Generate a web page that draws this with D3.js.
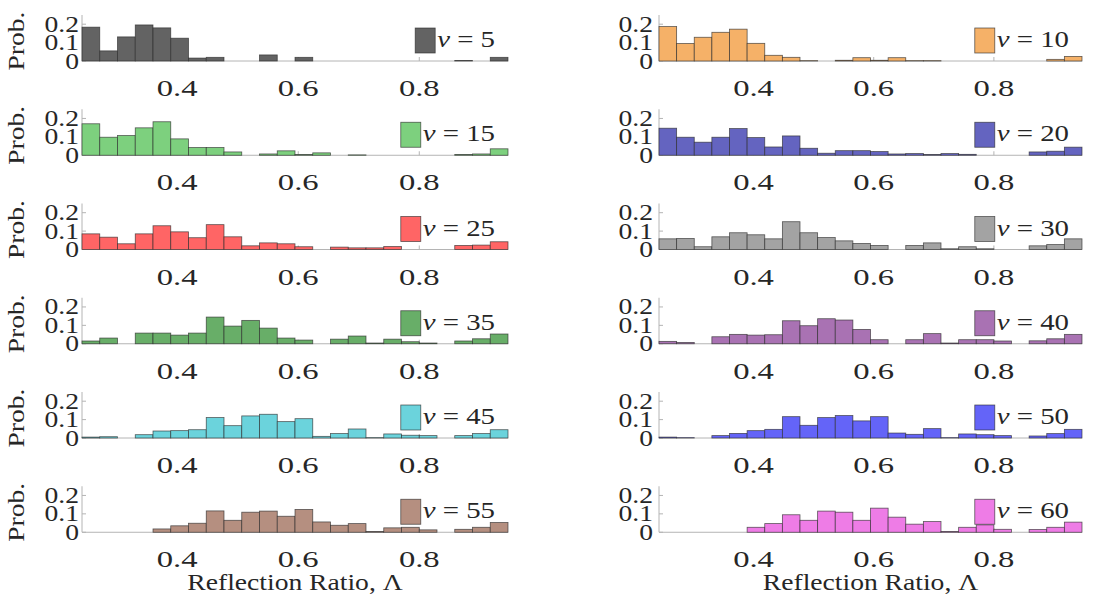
<!DOCTYPE html>
<html>
<head>
<meta charset="utf-8">
<script src="https://cdn.jsdelivr.net/npm/d3@7"></script>
<style>
  body { margin: 0; background: #fff; }
  svg { display: block; }
  text { font-family: "Liberation Serif", "Times New Roman", serif; fill: #262626; }
</style>
</head>
<body>
<svg id="chart" width="1105" height="603"></svg>
<script>
// Histogram bins of the reflection ratio
const binLow = 0.2427, binHigh = 0.9466, binCount = 24;

// Noise levels, one panel each
const nuValues = [5, 10, 15, 20, 25, 30, 35, 40, 45, 50, 55, 60];

// Probability per bin for each noise level
const prob5  = [0.184,0.055,0.131,0.196,0.180,0.124,0.016,0.020,0,0,0.033,0,0.020,0,0,0,0,0,0,0,0,0.003,0,0.020];
const prob10 = [0.187,0.095,0.129,0.156,0.173,0.096,0.031,0.020,0.002,0,0.004,0.018,0.004,0.018,0.002,0.002,0,0,0,0,0,0,0.009,0.025];
const prob15 = [0.171,0.098,0.107,0.149,0.182,0.089,0.042,0.042,0.018,0,0.007,0.024,0.004,0.013,0,0.002,0,0,0,0,0,0.004,0.007,0.035];
const prob20 = [0.147,0.098,0.071,0.098,0.145,0.096,0.045,0.105,0.038,0.011,0.025,0.025,0.020,0.007,0.009,0.004,0.009,0.005,0,0,0,0.018,0.022,0.044];
const prob25 = [0.085,0.067,0.031,0.085,0.129,0.096,0.064,0.135,0.069,0.020,0.036,0.031,0.015,0,0.013,0.009,0.009,0.016,0,0,0,0.022,0.024,0.042];
const prob30 = [0.058,0.060,0.015,0.069,0.091,0.080,0.058,0.151,0.091,0.065,0.047,0.033,0.022,0,0.022,0.036,0.004,0.015,0.004,0,0,0.020,0.027,0.058];
const prob35 = [0.015,0.031,0,0.058,0.058,0.047,0.058,0.145,0.096,0.127,0.085,0.031,0.020,0,0.025,0.042,0.004,0.025,0.011,0.004,0,0.015,0.027,0.053];
const prob40 = [0.013,0.007,0,0.038,0.051,0.047,0.049,0.125,0.098,0.136,0.129,0.078,0.022,0,0.022,0.055,0.004,0.022,0.022,0.015,0,0.016,0.027,0.051];
const prob45 = [0.005,0.007,0,0.018,0.038,0.040,0.045,0.111,0.067,0.120,0.129,0.089,0.105,0.009,0.024,0.049,0.002,0.022,0.015,0.013,0,0.013,0.024,0.045];
const prob50 = [0.005,0.002,0,0.013,0.025,0.040,0.047,0.116,0.069,0.111,0.122,0.093,0.116,0.027,0.020,0.051,0.002,0.022,0.018,0.013,0,0.011,0.024,0.047];
const prob55 = [0,0,0,0,0.018,0.035,0.049,0.116,0.065,0.109,0.115,0.087,0.124,0.056,0.038,0.047,0.004,0.024,0.027,0.013,0,0.016,0.027,0.053];
const prob60 = [0,0,0,0,0,0.027,0.047,0.095,0.065,0.115,0.109,0.065,0.131,0.082,0.044,0.058,0.004,0.027,0.040,0.016,0,0.015,0.027,0.055];

const seriesProbs = [prob5, prob10, prob15, prob20, prob25, prob30, prob35, prob40, prob45, prob50, prob55, prob60];

const seriesColors = ["#636363", "#f5b168", "#7dd07e", "#6464c0", "#ff6565", "#a3a3a3",
                      "#68ae68", "#a972b3", "#6bd3dc", "#6464f8", "#b58f80", "#ee7ce6"];

const xTicks = [0.4, 0.6, 0.8];
const yTicks = [0, 0.1, 0.2];
const yMax = 0.25;
const xLabel = "Reflection Ratio, \u039B";
const yLabel = "Prob.";

// Panel grid
const columns = [{ x0: 82, x1: 508, tickGap: 3 }, { x0: 659, x1: 1082, tickGap: 6 }];
const firstBottom = 61, rowStep = 94.25, panelHeight = 46;
const textStretch = 1.2;
const xTickStretch = 1.42;

const svg = d3.select("#chart");
const binWidth = (binHigh - binLow) / binCount;
const binEdges = d3.range(binCount).map(i => [binLow + i * binWidth, binLow + (i + 1) * binWidth]);

function stretchedText(g, x, y, str, size, anchor, rotate, sx) {
  return g.append("text")
    .attr("transform", `translate(${x},${y}) rotate(${rotate || 0}) scale(${sx || textStretch},1)`)
    .attr("text-anchor", anchor)
    .attr("font-size", size)
    .text(str);
}

nuValues.forEach((nu, k) => {
  const col = columns[k % 2];
  const row = Math.floor(k / 2);
  const bottom = firstBottom + row * rowStep;
  const top = bottom - panelHeight;

  const x = d3.scaleLinear().domain([binLow, binHigh]).range([col.x0, col.x1]);
  const y = d3.scaleLinear().domain([0, yMax]).range([bottom, top]);
  const g = svg.append("g");

  // axis lines
  g.append("line").attr("x1", col.x0).attr("x2", col.x0).attr("y1", top).attr("y2", bottom)
    .attr("stroke", "#b4b4b4").attr("stroke-width", 1);
  g.append("line").attr("x1", col.x0).attr("x2", col.x1).attr("y1", bottom).attr("y2", bottom)
    .attr("stroke", "#b4b4b4").attr("stroke-width", 1);

  // inward tick marks
  yTicks.forEach(t => {
    g.append("line").attr("x1", col.x0).attr("x2", col.x0 + 4).attr("y1", y(t)).attr("y2", y(t))
      .attr("stroke", "#b4b4b4");
  });
  xTicks.forEach(t => {
    g.append("line").attr("x1", x(t)).attr("x2", x(t)).attr("y1", bottom).attr("y2", bottom - 4)
      .attr("stroke", "#b4b4b4");
  });

  // histogram bars
  const data = seriesProbs[k].map((p, i) => ({ p, e: binEdges[i] })).filter(d => d.p > 0);
  g.selectAll("rect.bar").data(data).enter().append("rect")
    .attr("class", "bar")
    .attr("x", d => x(d.e[0]))
    .attr("width", d => x(d.e[1]) - x(d.e[0]))
    .attr("y", d => y(d.p))
    .attr("height", d => y(0) - y(d.p))
    .attr("fill", seriesColors[k])
    .attr("stroke", "#2b2b2b")
    .attr("stroke-opacity", 0.75)
    .attr("stroke-width", 0.8);

  // tick labels
  yTicks.forEach(t => {
    stretchedText(g, col.x0 - col.tickGap, y(t) + 7.5, String(t), 23, "end");
  });
  xTicks.forEach(t => {
    stretchedText(g, x(t), bottom + 35, t.toFixed(1), 23, "middle", 0, xTickStretch);
  });

  if (k % 2 === 0) {
    stretchedText(g, 23.5, bottom - 20, yLabel, 23, "middle", -90);
  }
  if (row === 5) {
    stretchedText(g, (col.x0 + col.x1) / 2, bottom + 58, xLabel, 23, "middle");
  }

  // legend: swatch and label, right-aligned in the panel
  const legendRight = col.x1 - 13;
  const lt = g.append("text")
    .attr("transform", `translate(${legendRight},${bottom - 14}) scale(${textStretch},1)`)
    .attr("text-anchor", "end")
    .attr("font-size", 24);
  lt.append("tspan").attr("font-style", "italic").text("\u03BD");
  lt.append("tspan").text(" = " + nu);
  const textW = lt.node().getComputedTextLength() * textStretch;
  const swRight = legendRight - textW - 2;
  g.append("rect")
    .attr("x", swRight - 20).attr("y", bottom - 33)
    .attr("width", 20).attr("height", 25)
    .attr("fill", seriesColors[k])
    .attr("stroke", "#2b2b2b").attr("stroke-opacity", 0.75).attr("stroke-width", 0.8);
});
</script>
</body>
</html>
